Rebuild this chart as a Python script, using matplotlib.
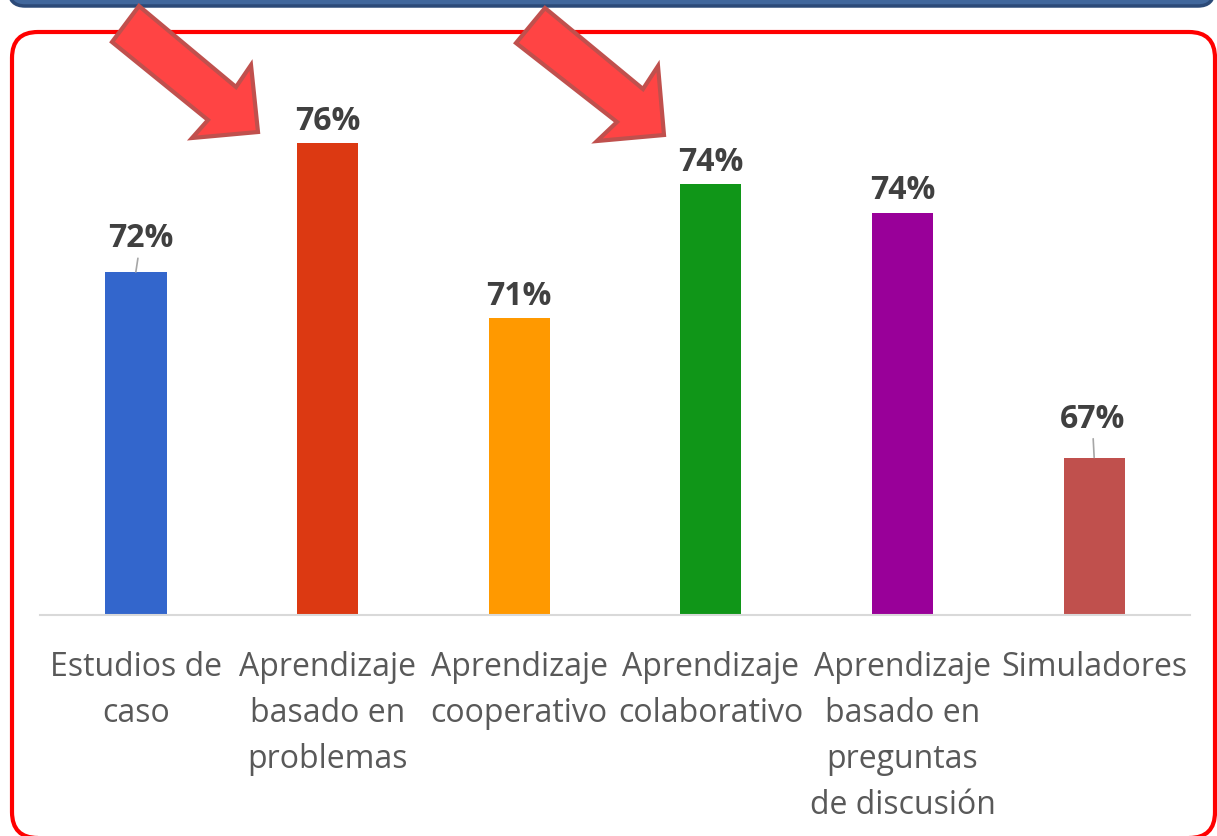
import matplotlib
matplotlib.use('Agg')
import matplotlib.pyplot as plt
from matplotlib.patches import FancyBboxPatch, Polygon
from matplotlib.transforms import IdentityTransform

categories = ['Estudios de\ncaso',
              'Aprendizaje\nbasado en\nproblemas',
              'Aprendizaje\ncooperativo',
              'Aprendizaje\ncolaborativo',
              'Aprendizaje\nbasado en\npreguntas\nde discusión',
              'Simuladores']
values = [71.9, 75.6, 70.6, 74.4, 73.6, 66.6]
colors = ['#3366CC', '#DC3912', '#FF9900', '#109618', '#990099', '#C0504D']

W, H = 1217, 836
fig = plt.figure(figsize=(W / 100, H / 100), dpi=100, facecolor='white')

# plot area in pixels: x 40..1190, y 40..615
ax = fig.add_axes([40 / W, (H - 615) / H, 1150 / W, 575 / H])
ax.patch.set_alpha(0)
x = range(len(values))
ax.bar(x, values, width=0.32, color=colors, bottom=0)
ax.set_xlim(-0.5, len(values) - 0.5)
ax.set_ylim(62.1, 62.1 + 575 / 35)

for s in ['top', 'left', 'right']:
    ax.spines[s].set_visible(False)
ax.spines['bottom'].set_color('#D9D9D9')
ax.spines['bottom'].set_linewidth(1.5)
ax.set_yticks([])
ax.set_xticks(list(x))
ax.set_xticklabels(categories, fontfamily='Open Sans', fontsize=23, color='#595959')
for lab in ax.get_xticklabels():
    lab.set_linespacing(1.52)
ax.tick_params(axis='x', length=0, pad=26)

# data labels (first and last were dragged away in the original, with leader lines)
offsets = [(5, 33), (0, 21), (0, 21), (0, 22), (0, 22), (-2, 38)]
for i, v in enumerate(values):
    dx, dy = offsets[i]
    ap = None
    if dy > 30:
        ap = dict(arrowstyle='-', color='#A6A6A6', lw=1.2, shrinkA=0, shrinkB=0)
    ax.annotate('%.0f%%' % v, xy=(i, v), xytext=(dx, dy), textcoords='offset pixels',
                ha='center', va='center', fontsize=23, fontweight='bold',
                fontfamily='Open Sans', color='#404040', arrowprops=ap, annotation_clip=False)

px = IdentityTransform()

# header strip
fig.patches.append(FancyBboxPatch((9, H - 6), 1205, 60, boxstyle='round,pad=0,rounding_size=16',
                                  facecolor='#41679C', edgecolor='#2C4A78', lw=2.5,
                                  transform=px, zorder=1))
# red frame
fig.patches.append(FancyBboxPatch((12, H - 838), 1203, 806, boxstyle='round,pad=0,rounding_size=26',
                                  facecolor='none', edgecolor='#FF0000', lw=3,
                                  transform=px, zorder=2))

# red arrows
arrow1 = [(139, 6), (112, 42), (208, 120), (192, 138), (258, 132), (251, 65), (236, 87)]
arrow2 = [(545, 8), (516, 43), (617, 122), (597, 141), (664, 135), (658, 66), (643, 89)]
for pts in (arrow1, arrow2):
    fig.patches.append(Polygon([(a, H - b) for a, b in pts], closed=True,
                               facecolor='#FF4444', edgecolor='#C0504D', lw=3,
                               joinstyle='miter', transform=px, zorder=3))

fig.savefig('out.png', dpi=100)
